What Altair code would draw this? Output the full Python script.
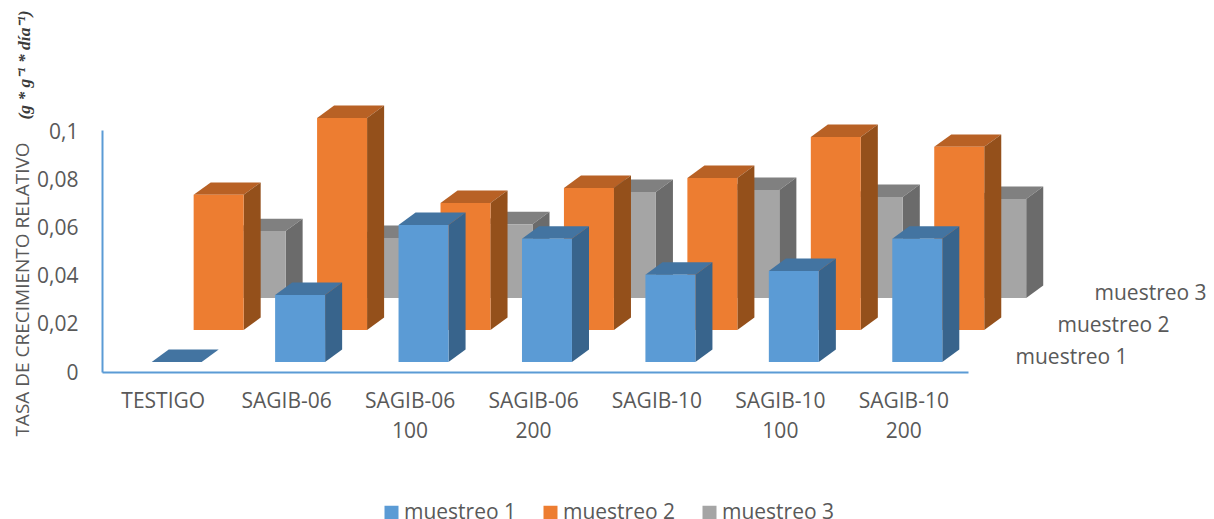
import altair as alt
import pandas as pd

categories = ["TESTIGO", "SAGIB-06", "SAGIB-06|100", "SAGIB-06|200", "SAGIB-10", "SAGIB-10|100", "SAGIB-10|200"]
series_names = ["muestreo 1", "muestreo 2", "muestreo 3"]
muestreo_1 = [0.0, 0.0279, 0.0571, 0.0513, 0.0363, 0.0379, 0.0513]
muestreo_2 = [0.0563, 0.0883, 0.0529, 0.0592, 0.0633, 0.0804, 0.0763]
muestreo_3 = [0.0279, 0.0250, 0.0308, 0.0442, 0.0450, 0.0421, 0.0413]
series_values = [muestreo_1, muestreo_2, muestreo_3]

front_colors = ["#5B9BD5", "#ED7D31", "#A5A5A5"]
top_colors = ["#4374A1", "#B86125", "#808080"]
side_colors = ["#38648C", "#94501B", "#6B6B6B"]
text_color = "#595959"
font = "Open Sans"

# depth geometry of the 3-D view, in axis units
bar_width = 0.405
depth_x = 0.138
depth_y = 0.0052
series_x = [0.105, 0.445, 0.785]
series_y = [0.0042, 0.0175, 0.0308]
depth_label_x = [7.25, 7.25, 7.21]

front, top, side = [], [], []
for s, (name, vals) in enumerate(zip(series_names, series_values)):
    for c, v in enumerate(vals):
        x0 = c + series_x[s] - bar_width / 2
        x1 = x0 + bar_width
        base = series_y[s]
        t = base + v
        front.append(dict(series=name, s=s, c=c, x=x0, x2=x1, y=base, y2=t))
        side.append(dict(s=s, c=c, x=x1, y=base, y2=t))
        side.append(dict(s=s, c=c, x=x1 + depth_x, y=base + depth_y, y2=t + depth_y))
        top.append(dict(s=s, c=c, x=x0, y=t, y2=t))
        top.append(dict(s=s, c=c, x=x0 + depth_x, y=t, y2=t + depth_y))
        top.append(dict(s=s, c=c, x=x1, y=t, y2=t + depth_y))
        top.append(dict(s=s, c=c, x=x1 + depth_x, y=t + depth_y, y2=t + depth_y))
front, top, side = pd.DataFrame(front), pd.DataFrame(top), pd.DataFrame(side)

x_scale = alt.Scale(domain=[-0.5, 6.516], nice=False, zero=False)
y_scale = alt.Scale(domain=[0, 0.10083], nice=False)
label_list = "[" + ",".join(f"'{c}'" for c in categories) + "]"

x_axis = alt.Axis(
    values=list(range(len(categories))),
    labelExpr=f"split({label_list}[datum.value], '|')",
    ticks=False, grid=False, title=None,
    domainColor="#5B9BD5", domainWidth=2,
    labelFont=font, labelFontSize=21, labelColor=text_color,
    labelPadding=18, labelLineHeight=30, labelOverlap=False, labelBaseline="top",
    labelFlush=False, labelOffset=-1,
)
y_axis = alt.Axis(
    values=[0, 0.02, 0.04, 0.06, 0.08, 0.1],
    labelExpr="replace(format(datum.value, '.2~f'), '.', ',')",
    ticks=False, grid=False,
    domainColor="#5B9BD5", domainWidth=2,
    labelFont=font, labelFontSize=21, labelColor=text_color, labelPadding=24, labelOffset=1,
    title="TASA DE CRECIMIENTO RELATIVO",
    titleFont=font, titleFontSize=19, titleFontWeight="normal", titleColor=text_color,
    titleX=-80, titleY=159, titleAngle=270, titleAlign="center", titleBaseline="middle",
)

layers = [
    alt.Chart(front[front.s == 0]).mark_rect(opacity=0).encode(
        x=alt.X("x:Q", scale=x_scale, axis=x_axis), x2="x2:Q",
        y=alt.Y("y:Q", scale=y_scale, axis=y_axis), y2="y2:Q",
    )
]
for s in [2, 1, 0]:
    layers.append(
        alt.Chart(top[top.s == s]).mark_area(color=top_colors[s], interpolate="linear").encode(
            x=alt.X("x:Q", scale=x_scale),
            y=alt.Y("y:Q", scale=y_scale), y2="y2:Q",
            detail="c:N",
        )
    )
    layers.append(
        alt.Chart(side[side.s == s]).mark_area(color=side_colors[s], interpolate="linear").encode(
            x=alt.X("x:Q", scale=x_scale),
            y=alt.Y("y:Q", scale=y_scale), y2="y2:Q",
            detail="c:N",
        )
    )
    layers.append(
        alt.Chart(front[front.s == s]).mark_rect().encode(
            x=alt.X("x:Q", scale=x_scale), x2="x2:Q",
            y=alt.Y("y:Q", scale=y_scale), y2="y2:Q",
            color=alt.Color(
                "series:N",
                scale=alt.Scale(domain=series_names, range=front_colors),
                legend=alt.Legend(
                    title=None, orient="none", direction="horizontal",
                    legendX=279, legendY=372, padding=0,
                    symbolType="square", symbolSize=196, symbolStrokeWidth=0,
                    symbolOpacity=1, labelFont=font, labelFontSize=21,
                    labelColor=text_color, columnPadding=23, labelOffset=2,
                ),
            ),
        )
    )

depth_labels = pd.DataFrame({
    "name": series_names,
    "x": [a + b for a, b in zip(depth_label_x, series_x)],
    "y": [v + 0.0017 for v in series_y],
})
layers.append(
    alt.Chart(depth_labels).mark_text(
        font=font, fontSize=21, color=text_color, align="center", baseline="middle"
    ).encode(
        x=alt.X("x:Q", scale=x_scale),
        y=alt.Y("y:Q", scale=y_scale),
        text="name:N",
    )
)
layers.append(
    alt.Chart(pd.DataFrame({"t": ["(g * g⁻¹ * día⁻¹)"]})).mark_text(
        font="Liberation Serif", fontSize=17.5, fontStyle="italic", fontWeight="bold",
        color="#3a3a3a", angle=270, align="center", baseline="middle",
    ).encode(x=alt.value(-77), y=alt.value(-65), text="t:N")
)

chart = alt.layer(*layers).resolve_scale(color="shared").properties(
    width=866, height=242,
    padding={"left": 94, "top": 122, "right": 238, "bottom": 147},
    autosize=alt.AutoSizeParams(type="none"),
).configure_view(stroke=None)

chart.save("out.html", embed_options={"renderer": "svg", "actions": False})
